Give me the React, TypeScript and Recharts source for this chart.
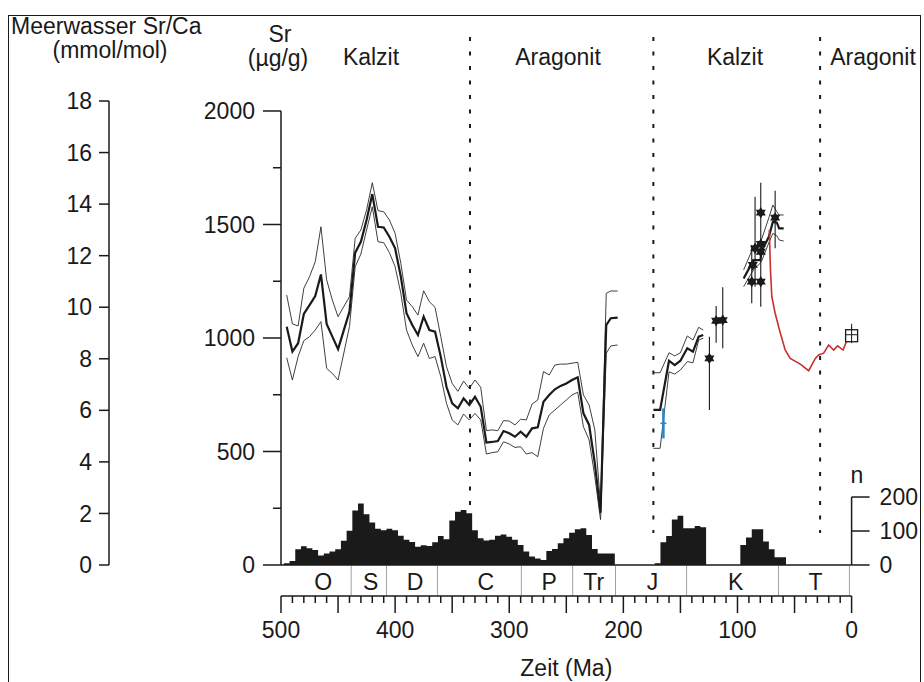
import {
  ComposedChart, XAxis, YAxis, Line, Area, Scatter, ErrorBar, ReferenceLine,
} from 'recharts'

const FONT = '"Liberation Sans", Arial, Helvetica, sans-serif'
const INK = '#1a1a1a'
const RED = '#c8302e'
const BLUE = '#2c84c6'
const FS = 23

// Ordovizium bis Trias: Mittelwert und Hüllkurven (Sr in µg/g)
const paleoAge = [495, 490, 485, 480, 475, 470, 465, 460, 455, 450, 440, 435, 430, 425, 420, 415, 410, 405, 400, 395, 390, 385, 380, 375, 370, 365, 360, 355, 350, 345, 340, 335, 330, 325, 320, 315, 310, 305, 300, 295, 290, 285, 280, 275, 270, 265, 260, 255, 250, 245, 240, 235, 230, 225, 220, 215, 211, 205]
const paleoMean = [1050, 940, 977, 1106, 1145, 1185, 1280, 1062, 1006, 951, 1116, 1376, 1424, 1520, 1634, 1490, 1487, 1446, 1395, 1270, 1109, 1057, 1013, 1094, 1035, 1028, 918, 785, 712, 690, 734, 705, 741, 697, 539, 542, 546, 590, 580, 565, 587, 565, 602, 607, 719, 749, 774, 789, 800, 815, 827, 668, 617, 448, 230, 1057, 1087, 1090]
const paleoHigh = [1189, 1062, 1053, 1219, 1270, 1336, 1490, 1256, 1167, 1094, 1182, 1439, 1476, 1564, 1684, 1561, 1556, 1520, 1461, 1329, 1167, 1138, 1101, 1208, 1160, 1135, 1006, 874, 800, 765, 810, 778, 815, 783, 592, 595, 592, 636, 634, 617, 642, 639, 709, 727, 852, 837, 881, 885, 885, 889, 893, 749, 705, 595, 260, 1197, 1207, 1207]
const paleoLow = [913, 815, 918, 988, 1006, 1035, 1072, 866, 844, 815, 1050, 1314, 1370, 1476, 1578, 1424, 1420, 1376, 1314, 1197, 1035, 969, 918, 977, 910, 918, 830, 712, 639, 617, 665, 639, 668, 639, 489, 495, 499, 543, 533, 518, 521, 489, 495, 477, 602, 661, 683, 705, 727, 749, 761, 609, 551, 389, 200, 933, 965, 969]

// Jura
const jurAge = [173.7, 167.8, 160, 155, 150, 144, 139, 134, 130]
const jurMean = [683, 683, 900, 881, 900, 955, 940, 1006, 1013]
const jurHigh = [847, 847, 935, 921, 935, 1009, 991, 1047, 1035]
const jurLow = [514, 514, 851, 841, 859, 896, 891, 991, 999]

// Oberkreide
const kreAge = [94.6, 86, 80, 78.5, 72.5, 69, 65.5, 63.5, 59.5]
const kreMean = [1262, 1343, 1343, 1387, 1446, 1512, 1508, 1483, 1483]
const kreHigh = [1300, 1402, 1420, 1440, 1530, 1586, 1556, 1542, 1542]
const kreLow = [1226, 1300, 1330, 1343, 1420, 1461, 1450, 1432, 1427]

// Einzelwerte mit Streubereich
const starAge = [124.6, 118.7, 112.9, 87.5, 86.6, 84.6, 79.6, 79.6, 79.6, 79.6, 67]
const starSr = [910, 1076, 1079, 1248, 1322, 1395, 1552, 1414, 1380, 1248, 1530]
const starLow = [683, 979, 955, 1153, 1322, 1226, 1138, 1414, 1380, 1248, 1395]
const starHigh = [1006, 1141, 1223, 1410, 1322, 1622, 1684, 1414, 1380, 1248, 1649]

const blueAge = [164.9]
const blueSr = [624]
const blueLow = [558]
const blueHigh = [690]

const boxAge = [0]
const boxSr = [1010]
const boxLow = [977]
const boxHigh = [1050]

// Känozoikum (rote Kurve)
const redAge = [72.1, 71.1, 69.9, 67, 63.2, 58.2, 53.8, 45, 37.6, 31.8, 28.9, 24.5, 20.1, 15.7, 12.2, 7.5, 4, 0]
const redSr = [1476, 1300, 1182, 1109, 1035, 947, 910, 885, 856, 910, 925, 933, 969, 947, 965, 947, 991, 1021]

// Probenzahl n je 5-Ma-Klasse
const BIN = 5
const histGroups = [
  { from: 497.5, counts: [5, 12, 46, 55, 49, 44, 28, 34, 40, 46, 71, 101, 160, 181, 149, 125, 107, 102, 107, 102, 86, 74, 68, 54, 58, 56, 67, 85, 76, 131, 157, 162, 152, 102, 79, 72, 74, 86, 90, 83, 74, 59, 40, 25, 19, 15, 41, 47, 64, 79, 95, 105, 108, 88, 47, 34, 34, 34] },
  { from: 172.5, counts: [5, 67, 85, 134, 145, 108, 108, 115, 111] },
  { from: 97.5, counts: [59, 81, 105, 105, 69, 46, 23, 23] },
]

const periodNames = ['O', 'S', 'D', 'C', 'P', 'Tr', 'J', 'K', 'T']
const periodLabelAge = [463, 421.5, 382.5, 320.5, 265, 226, 174.5, 101.5, 31.5]
const periodBounds = [438.5, 407.6, 362.9, 289.4, 244.4, 206.9, 144.6, 64.1, 1.9]
const phaseBounds = [334.4, 173.7, 27.6]

const srTicks = [0, 250, 500, 750, 1000, 1250, 1500, 1750, 2000]
const srcaTicks = [0, 2, 4, 6, 8, 10, 12, 14, 16, 18]
const nTicks = [0, 100, 200]
const timeTicks = Array.from({ length: 51 }, (_, i) => i * 10)

const zip = (age: number[], cols: Record<string, number[]>) =>
  age.map((a, i) => {
    const row: Record<string, number> = { age: a }
    for (const k in cols) row[k] = cols[k][i]
    return row
  })

const paleo = zip(paleoAge, { mean: paleoMean, hi: paleoHigh, lo: paleoLow })
const jur = zip(jurAge, { mean: jurMean, hi: jurHigh, lo: jurLow })
const kre = zip(kreAge, { mean: kreMean, hi: kreHigh, lo: kreLow })
const red = zip(redAge, { sr: redSr })

const withErr = (age: number[], sr: number[], lo: number[], hi: number[]) =>
  age.map((a, i) => ({ age: a, sr: sr[i], err: [sr[i] - lo[i], hi[i] - sr[i]] }))

const stars = withErr(starAge, starSr, starLow, starHigh)
const blue = withErr(blueAge, blueSr, blueLow, blueHigh)
const box = withErr(boxAge, boxSr, boxLow, boxHigh)

const hist = histGroups.flatMap(g => [
  ...g.counts.map((n, i) => ({ age: g.from - BIN * i, n })),
  { age: g.from - BIN * g.counts.length, n: 0 },
])

const headers = [
  { text: 'Meerwasser Sr/Ca', x: 11, y: 26, left: true },
  { text: '(mmol/mol)', x: 110, y: 50 },
  { text: 'Sr', x: 280, y: 34 },
  { text: '(\u00b5g/g)', x: 278, y: 58 },
  { text: 'Kalzit', x: 371, y: 57 },
  { text: 'Aragonit', x: 558, y: 57 },
  { text: 'Kalzit', x: 735, y: 57 },
  { text: 'Aragonit', x: 873, y: 57 },
  { text: 'n', x: 857, y: 475 },
]

// eslint-disable-next-line @typescript-eslint/no-explicit-any
function SrTick({ x, y, payload }: any) {
  const major = payload.value % 500 === 0
  return (
    <g>
      <line x1={x - (major ? 18 : 8)} x2={x} y1={y} y2={y} stroke={INK} strokeWidth={1.5} />
      {major && (
        <text x={x - 26} y={y} dy="0.355em" textAnchor="end" fontSize={FS} fill={INK}>
          {payload.value}
        </text>
      )}
    </g>
  )
}

// eslint-disable-next-line @typescript-eslint/no-explicit-any
function TimeTick({ x, y, payload }: any) {
  const v = payload.value
  return (
    <g>
      <line x1={x} x2={x} y1={y} y2={y + (v % 50 === 0 ? 17 : 7)} stroke={INK} strokeWidth={1.5} />
      {v % 100 === 0 && (
        <text x={x} y={y + 42} textAnchor="middle" fontSize={FS} fill={INK}>{v}</text>
      )}
    </g>
  )
}

// eslint-disable-next-line @typescript-eslint/no-explicit-any
function Hexagram({ cx, cy }: any) {
  const r = 5.8
  const tri = (rot: number) =>
    [0, 1, 2].map(k => {
      const a = rot + (k * 2 * Math.PI) / 3
      return `${cx + r * Math.sin(a)},${cy - r * Math.cos(a)}`
    }).join(' ')
  return (
    <g>
      <polygon points={tri(0)} fill={INK} />
      <polygon points={tri(Math.PI)} fill={INK} />
    </g>
  )
}

// eslint-disable-next-line @typescript-eslint/no-explicit-any
function BlueMark({ cx, cy }: any) {
  return <line x1={cx - 3} x2={cx + 3} y1={cy} y2={cy} stroke={BLUE} strokeWidth={1.5} />
}

// eslint-disable-next-line @typescript-eslint/no-explicit-any
function BoxMark({ cx, cy }: any) {
  return (
    <g>
      <rect x={cx - 6} y={cy - 6} width={12} height={12} fill="#fff" stroke={INK} strokeWidth={1.3} />
      <line x1={cx - 6} x2={cx + 6} y1={cy - 1} y2={cy - 1} stroke={INK} strokeWidth={1} />
      <line x1={cx} x2={cx} y1={cy - 12} y2={cy + 6} stroke={INK} strokeWidth={1} />
    </g>
  )
}

const thin = { stroke: '#2a2a2a', strokeWidth: 0.9, dot: false, isAnimationActive: false } as const
const thick = { stroke: INK, strokeWidth: 2.2, dot: false, isAnimationActive: false } as const

export default function App() {
  return (
    <div
      style={{
        position: 'absolute', left: 8, top: 15, width: 913, height: 700,
        border: `1px solid ${INK}`, boxSizing: 'border-box',
        fontFamily: FONT, color: INK, background: '#fff',
      }}
    >
      {headers.map((h, i) => (
        <div
          key={i}
          style={{
            position: 'absolute', left: h.x - 9, top: h.y - 16, fontSize: FS, lineHeight: 1,
            whiteSpace: 'nowrap', transform: h.left ? 'translateY(-50%)' : 'translate(-50%, -50%)',
          }}
        >
          {h.text}
        </div>
      ))}
      <div style={{ position: 'absolute', left: 0, top: 0 }}>
        <ComposedChart width={911} height={670} margin={{ top: 85, right: 8.4, bottom: 0, left: 10 }}>
          {/* Systeme (O, S, D ...) direkt unter der Grundlinie */}
          <XAxis
            xAxisId="p" dataKey="age" type="number" domain={[0, 500]} reversed allowDataOverflow
            ticks={periodLabelAge} interval={0} height={31}
            tickFormatter={v => periodNames[periodLabelAge.indexOf(v)]}
            tick={{ fontSize: FS, fill: INK }} tickLine={false} tickSize={0} tickMargin={9}
            axisLine={{ stroke: INK, strokeWidth: 1.5 }}
          />
          <XAxis
            xAxisId="t" dataKey="age" type="number" domain={[0, 500]} reversed
            ticks={timeTicks} interval={0} height={90}
            tick={TimeTick} tickLine={false} tickSize={0} tickMargin={0}
            axisLine={{ stroke: INK, strokeWidth: 1.5 }}
            label={{ value: 'Zeit (Ma)', position: 'insideBottom', offset: 10, fontSize: FS, fill: INK }}
          />
          <YAxis
            yAxisId="sr" width={172} domain={[0, 2044]} ticks={srTicks} interval={0}
            tick={SrTick} tickLine={false} tickSize={0} tickMargin={0} axisLine={false}
          />
          <YAxis
            yAxisId="srca" width={90} domain={[0, 18]} allowDataOverflow ticks={srcaTicks} interval={0}
            tick={{ fontSize: FS, fill: INK }} tickSize={10} tickMargin={7}
            tickLine={{ stroke: INK, strokeWidth: 1.5 }} axisLine={{ stroke: INK, strokeWidth: 1.5 }}
          />
          <YAxis
            yAxisId="n" orientation="right" width={60} domain={[0, 1365]} ticks={nTicks} interval={0}
            tick={{ fontSize: FS, fill: INK }} tickSize={18} tickMargin={10}
            tickLine={{ stroke: INK, strokeWidth: 1.5 }} axisLine={false}
          />

          {/* Achsenlinien, die nicht über die ganze Höhe gehen */}
          <ReferenceLine
            xAxisId="t" yAxisId="sr" ifOverflow="visible" stroke={INK} strokeWidth={1.5}
            segment={[{ x: 500, y: 0 }, { x: 500, y: 2000 }]}
          />
          <ReferenceLine
            xAxisId="t" yAxisId="n" ifOverflow="visible" stroke={INK} strokeWidth={1.5}
            segment={[{ x: 0, y: 0 }, { x: 0, y: 200 }]}
          />

          {/* Grenzen Kalzit-/Aragonit-Meer */}
          {phaseBounds.map(b => (
            <ReferenceLine
              key={`ph${b}`} xAxisId="t" yAxisId="sr" ifOverflow="visible"
              stroke={INK} strokeWidth={2} strokeDasharray="4 10.5"
              segment={[{ x: b, y: 2326 }, { x: b, y: 141 }]}
            />
          ))}

          {/* Systemgrenzen in der Zeitleiste */}
          {periodBounds.map(b => (
            <ReferenceLine
              key={`pb${b}`} xAxisId="t" yAxisId="sr" ifOverflow="visible"
              stroke="#a0a0a0" strokeWidth={1}
              segment={[{ x: b, y: -4 }, { x: b, y: -134 }]}
            />
          ))}

          <Area
            xAxisId="t" yAxisId="n" data={hist} dataKey="n" type="stepAfter"
            stroke="none" fill={INK} fillOpacity={1} isAnimationActive={false}
          />

          <Line xAxisId="t" yAxisId="sr" data={paleo} dataKey="hi" {...thin} />
          <Line xAxisId="t" yAxisId="sr" data={paleo} dataKey="lo" {...thin} />
          <Line xAxisId="t" yAxisId="sr" data={paleo} dataKey="mean" {...thick} />
          <Line xAxisId="t" yAxisId="sr" data={jur} dataKey="hi" {...thin} />
          <Line xAxisId="t" yAxisId="sr" data={jur} dataKey="lo" {...thin} />
          <Line xAxisId="t" yAxisId="sr" data={jur} dataKey="mean" {...thick} />
          <Line xAxisId="t" yAxisId="sr" data={kre} dataKey="hi" {...thin} />
          <Line xAxisId="t" yAxisId="sr" data={kre} dataKey="lo" {...thin} />
          <Line xAxisId="t" yAxisId="sr" data={kre} dataKey="mean" {...thick} />
          <Line
            xAxisId="t" yAxisId="sr" data={red} dataKey="sr"
            stroke={RED} strokeWidth={1.6} dot={false} isAnimationActive={false}
          />

          <Scatter xAxisId="t" yAxisId="sr" data={stars} dataKey="sr" shape={Hexagram} isAnimationActive={false}>
            <ErrorBar dataKey="err" direction="y" width={0} stroke={INK} strokeWidth={1.1} />
          </Scatter>
          <Scatter xAxisId="t" yAxisId="sr" data={blue} dataKey="sr" shape={BlueMark} isAnimationActive={false}>
            <ErrorBar dataKey="err" direction="y" width={0} stroke={BLUE} strokeWidth={2.5} />
          </Scatter>
          <Scatter xAxisId="t" yAxisId="sr" data={box} dataKey="sr" shape={BoxMark} isAnimationActive={false}>
            <ErrorBar dataKey="err" direction="y" width={0} stroke={INK} strokeWidth={1} />
          </Scatter>
        </ComposedChart>
      </div>
    </div>
  )
}
